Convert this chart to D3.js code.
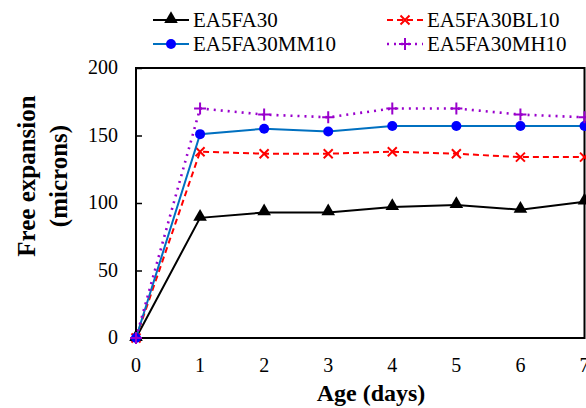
<!DOCTYPE html>
<html>
<head>
<meta charset="utf-8">
<script src="https://cdn.jsdelivr.net/npm/d3@7"></script>
<style>
  body { margin: 0; background: #fff; font-family: "Liberation Serif", serif; }
  svg { display: block; }
  svg text { font-family: "Liberation Serif", serif; }
</style>
</head>
<body>
<div id="chart"></div>
<script>
const days = [0, 1, 2, 3, 4, 5, 6, 7];
const yTicks = [0, 50, 100, 150, 200];
const ea5fa30 = [0, 89, 93, 93, 97, 98.5, 95, 101];
const ea5fa30bl10 = [0, 138, 136.5, 136.5, 138, 136.5, 134, 134];
const ea5fa30mm10 = [0, 151, 155, 153, 157, 157, 157, 157];
const ea5fa30mh10 = [0, 170, 165.5, 163.5, 170, 170, 165.5, 163.5];

const series = [
  { name: "EA5FA30", values: ea5fa30, color: "#000000", dash: null, marker: "triangle", width: 2 },
  { name: "EA5FA30BL10", values: ea5fa30bl10, color: "#ff0000", dash: "6,4", marker: "cross", width: 2 },
  { name: "EA5FA30MM10", values: ea5fa30mm10, color: "#0070c0", dash: null, marker: "circle", width: 2 },
  { name: "EA5FA30MH10", values: ea5fa30mh10, color: "#9900cc", dash: "2,5", marker: "plus", width: 2.6 }
];

const width = 586, height = 408;
const margin = { top: 68, right: 2, bottom: 70, left: 136 };

const svg = d3.select("#chart").append("svg")
  .attr("width", width)
  .attr("height", height);

const x = d3.scaleLinear().domain([0, 7]).range([margin.left, 584.5]);
const y = d3.scaleLinear().domain([0, 200]).range([338, margin.top]);

// left axis, ticks point inward
const yAxis = svg.append("g")
  .attr("transform", `translate(${margin.left},0)`)
  .call(d3.axisRight(y).tickValues(yTicks).tickSize(6).tickFormat(""));
yAxis.select(".domain").remove();
yAxis.selectAll("line").attr("stroke", "#000").attr("stroke-width", 1.5);

svg.selectAll(".ylab")
  .data(yTicks)
  .join("text")
  .attr("class", "ylab")
  .attr("x", 118)
  .attr("y", d => y(d) + 6)
  .attr("text-anchor", "end")
  .style("font-family", "Liberation Serif")
  .style("font-size", "20px")
  .text(d => d);

svg.selectAll(".xlab")
  .data(days)
  .join("text")
  .attr("class", "xlab")
  .attr("x", d => x(d))
  .attr("y", 372)
  .attr("text-anchor", "middle")
  .style("font-family", "Liberation Serif")
  .style("font-size", "20px")
  .text(d => d);

// frame
svg.append("rect")
  .attr("x", margin.left)
  .attr("y", margin.top)
  .attr("width", 584.5 - margin.left)
  .attr("height", 338 - margin.top)
  .attr("fill", "none")
  .attr("stroke", "#000")
  .attr("stroke-width", 2);

const line = d3.line()
  .x((d, i) => x(days[i]))
  .y(d => y(d));

function drawMarker(g, type, color, cx, cy) {
  if (type === "triangle") {
    g.append("path")
      .attr("d", d3.symbol().type(d3.symbolTriangle).size(80)())
      .attr("transform", `translate(${cx},${cy - 1})`)
      .attr("fill", color);
  } else if (type === "circle") {
    g.append("circle").attr("cx", cx).attr("cy", cy).attr("r", 5).attr("fill", "#0000ff");
  } else if (type === "cross") {
    g.append("path")
      .attr("d", `M${cx - 4.5},${cy - 4.5}L${cx + 4.5},${cy + 4.5}M${cx - 4.5},${cy + 4.5}L${cx + 4.5},${cy - 4.5}`)
      .attr("stroke", color).attr("stroke-width", 2);
  } else if (type === "plus") {
    g.append("path")
      .attr("d", `M${cx - 6},${cy}L${cx + 6},${cy}M${cx},${cy - 6}L${cx},${cy + 6}`)
      .attr("stroke", color).attr("stroke-width", 2);
  }
}

series.forEach(s => {
  const g = svg.append("g");
  g.append("path")
    .datum(s.values)
    .attr("d", line)
    .attr("fill", "none")
    .attr("stroke", s.color)
    .attr("stroke-width", s.width)
    .attr("stroke-dasharray", s.dash);
  s.values.forEach((v, i) => drawMarker(g, s.marker, s.color, x(days[i]), y(v)));
});

// legend
const legendPos = [
  { lx: 153, ly: 20 }, { lx: 387, ly: 20 },
  { lx: 153, ly: 44 }, { lx: 387, ly: 44 }
];
series.forEach((s, i) => {
  const p = legendPos[i];
  const g = svg.append("g");
  g.append("line")
    .attr("x1", p.lx).attr("x2", p.lx + 36)
    .attr("y1", p.ly).attr("y2", p.ly)
    .attr("stroke", s.color)
    .attr("stroke-width", s.width)
    .attr("stroke-dasharray", s.dash);
  drawMarker(g, s.marker, s.color, p.lx + 18, p.ly);
  g.append("text")
    .attr("x", p.lx + 40)
    .attr("y", p.ly + 7)
    .style("font-family", "Liberation Serif")
    .style("font-size", "21px")
    .text(s.name);
});

// axis titles
svg.append("text")
  .attr("x", 371)
  .attr("y", 401)
  .attr("text-anchor", "middle")
  .style("font-family", "Liberation Serif")
  .style("font-size", "24px")
  .style("font-weight", "bold")
  .text("Age (days)");

const yt = svg.append("text")
  .attr("transform", "translate(35,176) rotate(-90)")
  .attr("text-anchor", "middle")
  .style("font-family", "Liberation Serif")
  .style("font-size", "25px")
  .style("font-weight", "bold");
yt.append("tspan").attr("x", 0).attr("dy", 0).text("Free expansion");
yt.append("tspan").attr("x", 0).attr("dy", 32).text("(microns)");
</script>
</body>
</html>
